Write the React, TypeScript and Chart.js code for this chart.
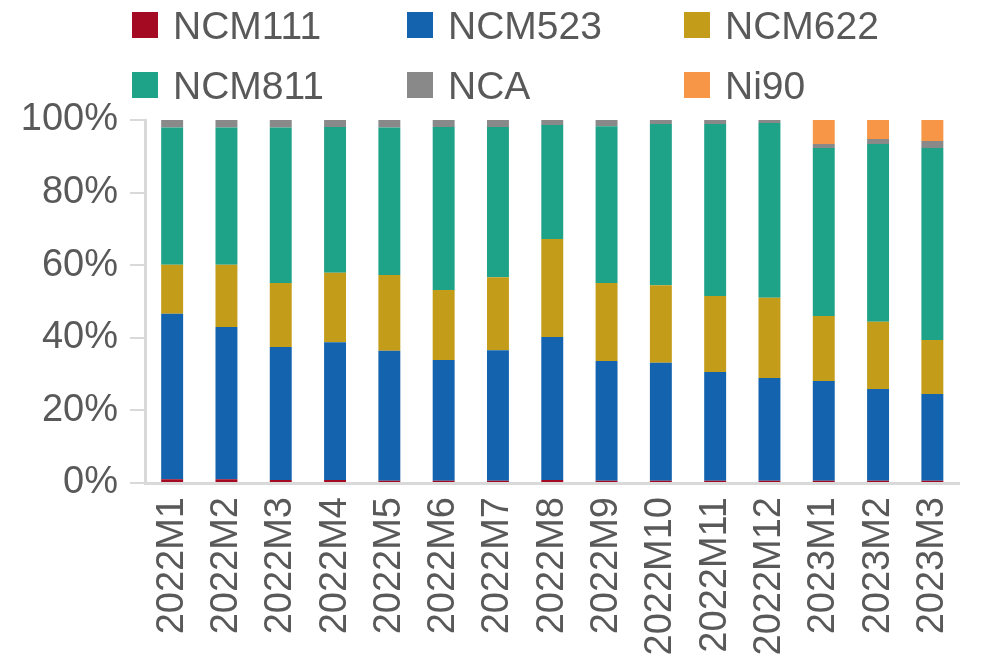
import React, { useEffect, useRef } from "react";
import { Chart, registerables } from "chart.js";

Chart.register(...registerables);

const categories = [
  "2022M1", "2022M2", "2022M3", "2022M4", "2022M5", "2022M6", "2022M7", "2022M8",
  "2022M9", "2022M10", "2022M11", "2022M12", "2023M1", "2023M2", "2023M3",
];

const ncm111 = [1.0, 1.0, 0.8, 0.8, 0.6, 0.6, 0.6, 0.8, 0.6, 0.6, 0.6, 0.6, 0.6, 0.6, 0.6];
const ncm523 = [45.6, 42.0, 36.7, 38.0, 35.8, 33.3, 36.0, 39.4, 33.0, 32.5, 30.0, 28.3, 27.5, 25.3, 23.9];
const ncm622 = [13.5, 17.1, 17.6, 19.1, 20.9, 19.3, 20.1, 27.0, 21.5, 21.4, 20.9, 22.1, 17.9, 18.5, 14.9];
const ncm811 = [37.8, 37.8, 42.8, 40.2, 40.6, 44.9, 41.4, 31.4, 43.2, 44.4, 47.4, 48.2, 46.3, 49.0, 52.9];
const nca = [2.1, 2.1, 2.1, 1.9, 2.1, 1.9, 1.9, 1.4, 1.7, 1.1, 1.1, 0.8, 1.1, 1.4, 1.9];
const ni90 = [0, 0, 0, 0, 0, 0, 0, 0, 0, 0, 0, 0, 6.6, 5.2, 5.8];

const yTicks = [0, 20, 40, 60, 80, 100];

const seriesNames = ["NCM111", "NCM523", "NCM622", "NCM811", "NCA", "Ni90"];
const seriesColors = ["#A50A23", "#1363AF", "#C39C1A", "#1FA388", "#898989", "#F79646"];
const seriesData = [ncm111, ncm523, ncm622, ncm811, nca, ni90];

const FONT = "'Liberation Sans', Arial, sans-serif";
const TEXT = "#595959";
const AXIS = "#D9D9D9";

export default function App() {
  const canvasRef = useRef<HTMLCanvasElement | null>(null);

  useEffect(() => {
    const canvas = canvasRef.current;
    if (!canvas) return;
    const chart = new Chart(canvas, {
      type: "bar",
      data: {
        labels: categories,
        datasets: seriesNames.map((name, i) => ({
          label: name,
          data: seriesData[i],
          backgroundColor: seriesColors[i],
          borderWidth: 0,
          inflateAmount: 0,
          barPercentage: 0.404,
          categoryPercentage: 1,
        })),
      },
      options: {
        animation: false,
        responsive: true,
        maintainAspectRatio: false,
        layout: { padding: { top: 120, right: 31, left: 0, bottom: 0 } },
        plugins: {
          legend: { display: false },
          tooltip: { enabled: false },
        },
        scales: {
          x: {
            stacked: true,
            grid: { display: false, drawTicks: false },
            border: { display: true, color: AXIS, width: 3 },
            ticks: {
              color: TEXT,
              font: { family: FONT, size: 38 },
              minRotation: 90,
              maxRotation: 90,
              autoSkip: false,
              padding: 14,
            },
            afterFit: (scale: any) => {
              scale.height = 180;
            },
          },
          y: {
            stacked: true,
            min: 0,
            max: 100,
            afterBuildTicks: (scale: any) => {
              scale.ticks = yTicks.map((v) => ({ value: v }));
            },
            grid: {
              drawOnChartArea: false,
              drawTicks: true,
              tickLength: 15,
              color: AXIS,
              lineWidth: 2,
            },
            border: { display: true, color: AXIS, width: 3 },
            ticks: {
              color: TEXT,
              font: { family: FONT, size: 38 },
              padding: 12,
              callback: (v: any) => `${v}%`,
            },
            afterFit: (scale: any) => {
              scale.width = 145;
            },
          },
        },
      },
    });
    return () => chart.destroy();
  }, []);

  const legendCols = [132, 407, 684];
  const legendRows = [12, 72];

  return (
    <div style={{ position: "absolute", left: 0, top: 0, width: 993, height: 663, background: "#fff" }}>
      <canvas ref={canvasRef} style={{ position: "absolute", left: 0, top: 0 }} />
      {seriesNames.map((name, i) => (
        <div
          key={name}
          style={{
            position: "absolute",
            left: legendCols[i % 3],
            top: legendRows[Math.floor(i / 3)],
            height: 26,
            display: "flex",
            alignItems: "center",
            whiteSpace: "nowrap",
          }}
        >
          <span style={{ display: "inline-block", width: 26, height: 26, background: seriesColors[i] }} />
          <span
            style={{
              marginLeft: 15,
              fontFamily: FONT,
              fontSize: 39,
              lineHeight: "39px",
              color: TEXT,
            }}
          >
            {name}
          </span>
        </div>
      ))}
    </div>
  );
}
